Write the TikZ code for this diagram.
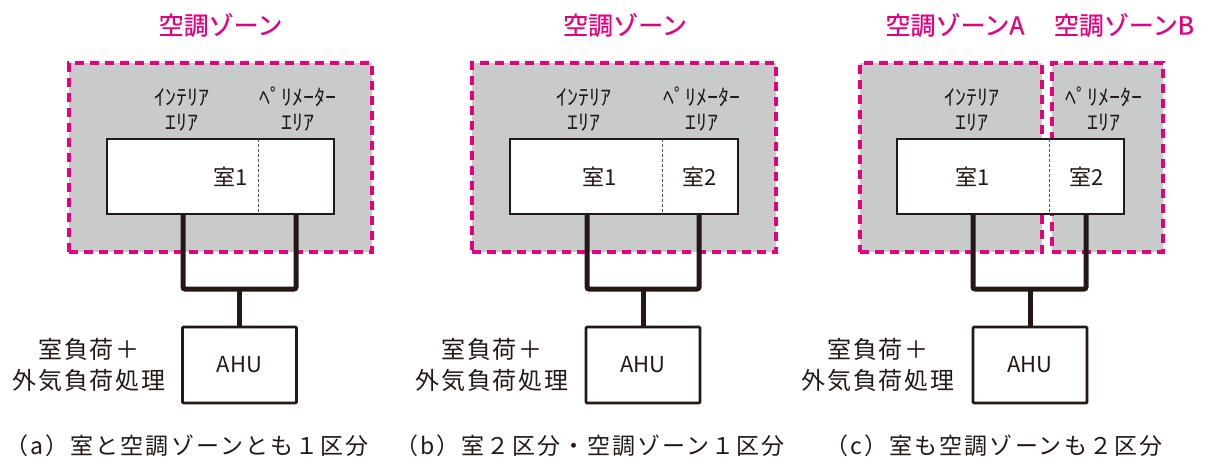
\documentclass[tikz,border=0pt]{standalone}
\usepackage{fontspec}
\newfontfamily\jp{Noto Sans CJK JP}
\newfontfamily\jptitle[FakeBold=0.5]{Noto Sans CJK JP}
\newfontfamily\jpcap[LetterSpace=9]{Noto Sans CJK JP}
\newfontfamily\jpload[LetterSpace=8]{Noto Sans CJK JP}
\definecolor{zmag}{HTML}{E4007F}
\definecolor{zgray}{HTML}{C9CACA}
\definecolor{ink}{HTML}{231815}
\tikzset{
 zone/.style={draw=zmag, fill=zgray, line width=3.2pt, dash pattern=on 9pt off 6pt, inner sep=0pt, outer sep=0pt},
 roombox/.style={draw=ink, fill=white, line width=2.8pt, inner sep=0pt, minimum height=75pt},
 ahubox/.style={draw=ink, fill=white, line width=2.8pt, rounded corners=1pt, minimum width=114pt, minimum height=76pt, inner sep=0pt, font=\jp\fontsize{22}{22}\selectfont, text=ink},
 pipe/.style={draw=ink, line width=5pt, rounded corners=2pt},
 divider/.style={draw=ink!75, line width=0.8pt, dash pattern=on 3pt off 2pt},
 ztitle/.style={text=zmag, font=\jptitle\fontsize{25}{25}\selectfont, inner sep=0pt},
 arealabel/.style={text=ink, font=\jp\fontsize{22}{25}\selectfont, align=center, inner sep=0pt},
 roomlabel/.style={text=ink, font=\jp\fontsize{22}{22}\selectfont, inner sep=0pt},
 loadlabel/.style={text=ink, font=\jpload\fontsize{24}{31}\selectfont, align=center, inner sep=0pt},
 captext/.style={text=ink, font=\jpcap\fontsize{23}{23}\selectfont, inner sep=0pt},
}
\begin{document}
\begin{tikzpicture}[x=1pt,y=-1pt]
\useasboundingbox (0,0) rectangle (1209,463);
% zones
\node[zone, minimum width=303pt, minimum height=189pt] (za) at (220.5,157.5) {};
\node[zone, minimum width=304pt, minimum height=189pt] (zb) at (624,157.5) {};
\node[zone, minimum width=182pt, minimum height=189pt] (zcA) at (951,157.5) {};
\node[zone, minimum width=111pt, minimum height=189pt] (zcB) at (1107.5,157.5) {};
% titles
\node[ztitle] (ta) at (220.5,25) {空調ゾーン};
\node[ztitle] (tb) at (625,25) {空調ゾーン};
\node[ztitle] (tcA) at (955,25) {空調ゾーンA};
\node[ztitle] (tcB) at (1124,25) {空調ゾーンB};
% area labels
\node[arealabel] (ia) at (182,109.5) {ｲﾝﾃﾘｱ\\ｴﾘｱ};
\node[arealabel] (pa) at (298,109.5) {ﾍﾟﾘﾒｰﾀｰ\\ｴﾘｱ};
\node[arealabel] (ib) at (584,109.5) {ｲﾝﾃﾘｱ\\ｴﾘｱ};
\node[arealabel] (pb) at (702,109.5) {ﾍﾟﾘﾒｰﾀｰ\\ｴﾘｱ};
\node[arealabel] (ic) at (972,109.5) {ｲﾝﾃﾘｱ\\ｴﾘｱ};
\node[arealabel] (pc) at (1104,109.5) {ﾍﾟﾘﾒｰﾀｰ\\ｴﾘｱ};
% rooms
\node[roombox, minimum width=227pt] (ra) at (220.5,176.5) {};
\node[roombox, minimum width=228pt] (rb) at (624,176.5) {};
\node[roombox, minimum width=227pt] (rc) at (1010.5,176.5) {};
\draw[divider] (258,139) -- (258,214);
\draw[divider] (662,139) -- (662,214);
\draw[divider] (1049,139) -- (1049,214);
\node[roomlabel] (ra1) at (231,177) {室1};
\node[roomlabel] (rb1) at (600,177) {室1};
\node[roomlabel] (rb2) at (700,177) {室2};
\node[roomlabel] (rc1) at (973,177) {室1};
\node[roomlabel] (rc2) at (1087,177) {室2};
% AHU
\node[ahubox] (ahua) at (239.5,365) {AHU};
\node[ahubox] (ahub) at (643,365) {AHU};
\node[ahubox] (ahuc) at (1030,365) {AHU};
% pipes
\coordinate (ja) at (239.5,289);
\coordinate (jb) at (643,289);
\coordinate (jc) at (1030,289);
\draw[pipe] (183,214) -- (183,289) -- (296,289) -- (296,214);
\draw[pipe] (587,214) -- (587,289) -- (699,289) -- (699,214);
\draw[pipe] (973,214) -- (973,289) -- (1086,289) -- (1086,214);
\draw[pipe] (ja) -- (ahua.north);
\draw[pipe] (jb) -- (ahub.north);
\draw[pipe] (jc) -- (ahuc.north);
% load labels
\node[loadlabel] (la) at (89,365) {室負荷＋\\外気負荷処理};
\node[loadlabel] (lb) at (492,365) {室負荷＋\\外気負荷処理};
\node[loadlabel] (lc) at (878,365) {室負荷＋\\外気負荷処理};
% captions
\node[captext] (ca) at (187,446) {（a）室と空調ゾーンとも１区分};
\node[captext] (cb) at (590,446) {（b）室２区分・空調ゾーン１区分};
\node[captext] (cc) at (994,446) {（c）室も空調ゾーンも２区分};
\end{tikzpicture}
\end{document}
